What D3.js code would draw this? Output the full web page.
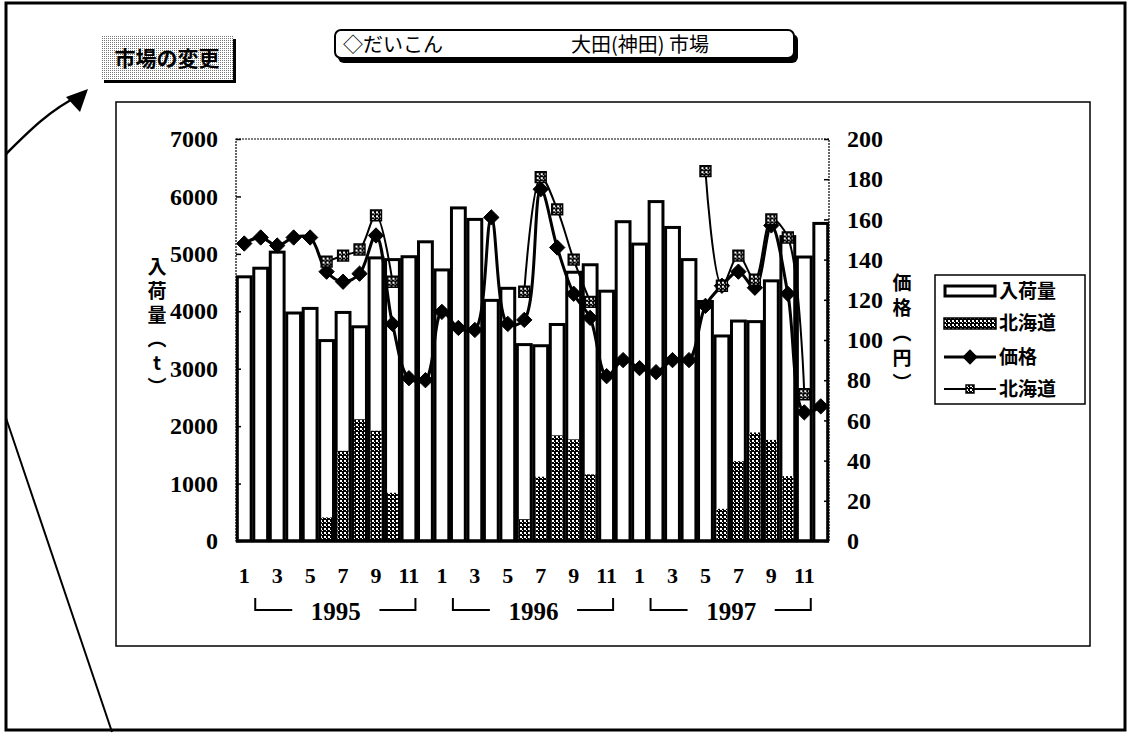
<!DOCTYPE html>
<meta charset="utf-8">
<style>
body { margin: 0; background: #fff; }
svg { display: block; }
.tick text { font-family: "Liberation Serif", serif; font-weight: bold; fill: #000; }
.jp { font-family: "Noto Sans CJK JP", sans-serif; fill: #000; }
.vt { writing-mode: vertical-rl; text-orientation: upright; }
</style>
<svg width="1128" height="734"></svg>
<script src="https://d3js.org/d3.v7.min.js"></script>
<script>

// months: 1995-01 .. 1997-12
var years = ["1995", "1996", "1997"];
var months = d3.range(36);

var volume = [4600, 4750, 5030, 3970, 4050, 3490, 3980, 3730, 4930, 4900, 4950, 5210,
              4720, 5800, 5600, 4190, 4400, 3420, 3400, 3770, 4680, 4810, 4350, 5560,
              5170, 5910, 5460, 4900, 4170, 3570, 3830, 3820, 4530, 5300, 4945, 5530];

var hokVolume = [null, null, null, null, null, 410, 1570, 2120, 1920, 840, null, null,
                 null, null, null, null, null, 380, 1120, 1840, 1770, 1160, null, null,
                 null, null, null, null, null, 560, 1390, 1890, 1760, 1130, null, null];

var price = [148, 151, 147, 151, 151, 134, 129, 133, 152, 108, 81, 80,
             114, 106, 105, 161, 108, 110, 175, 146, 123, 111, 82, 90,
             86, 84, 90, 90, 117, 127, 134, 126, 157, 123, 64, 67];

var hokPrice = [null, null, null, null, null, 139, 142, 145, 162, 129, null, null,
                null, null, null, null, null, 124, 181, 165, 140, 119, null, null,
                null, null, null, null, 184, 127, 142, 130, 160, 151, 73, null];

var volTicks = [0, 1000, 2000, 3000, 4000, 5000, 6000, 7000];
var priceTicks = [0, 20, 40, 60, 80, 100, 120, 140, 160, 180, 200];
var legendNames = ["入荷量", "北海道", "価格", "北海道"];

var svg = d3.select("svg");
var defs = svg.append("defs");

// dark checker for 北海道
var pat = defs.append("pattern").attr("id", "hok").attr("width", 4).attr("height", 4)
    .attr("patternUnits", "userSpaceOnUse");
pat.append("rect").attr("width", 4).attr("height", 4).attr("fill", "#000");
pat.append("rect").attr("x", 0).attr("y", 0).attr("width", 2).attr("height", 2).attr("fill", "#fff");
pat.append("rect").attr("x", 2).attr("y", 2).attr("width", 1).attr("height", 1).attr("fill", "#fff");

// light stipple for the button
var pat2 = defs.append("pattern").attr("id", "stip").attr("width", 2).attr("height", 2)
    .attr("patternUnits", "userSpaceOnUse");
pat2.append("rect").attr("width", 2).attr("height", 2).attr("fill", "#fff");
pat2.append("rect").attr("width", 1).attr("height", 1).attr("fill", "#777");

// outer frame
svg.append("rect").attr("x", 6).attr("y", 3).attr("width", 1119).attr("height", 727)
   .attr("fill", "none").attr("stroke", "#000").attr("stroke-width", 3);

// button
svg.append("rect").attr("x", 104).attr("y", 39).attr("width", 132).attr("height", 44).attr("fill", "#000");
svg.append("rect").attr("x", 101).attr("y", 36).attr("width", 132).attr("height", 44).attr("fill", "url(#stip)");
svg.append("text").attr("class", "jp").attr("x", 167).attr("y", 66)
   .attr("text-anchor", "middle").attr("font-size", 21).attr("font-weight", "bold")
   .text("市場の変更");

// title box
svg.append("rect").attr("x", 338).attr("y", 34).attr("width", 460).attr("height", 29)
   .attr("rx", 6).attr("fill", "#000");
svg.append("rect").attr("x", 335).attr("y", 30).attr("width", 459).attr("height", 28)
   .attr("rx", 6).attr("fill", "#fff").attr("stroke", "#000").attr("stroke-width", 2);
svg.append("text").attr("class", "jp").attr("x", 343).attr("y", 52).attr("font-size", 20)
   .text("◇だいこん");
svg.append("text").attr("class", "jp").attr("x", 571).attr("y", 52).attr("font-size", 20)
   .text("大田(神田) 市場");

// arrow and long line
svg.append("path").attr("d", "M6,154 C30,130 50,110 80,95")
   .attr("fill", "none").attr("stroke", "#000").attr("stroke-width", 2.5);
svg.append("path").attr("d", "M88,89 L66,97 L80,112 Z").attr("fill", "#000");
svg.append("line").attr("x1", 6).attr("y1", 418).attr("x2", 112).attr("y2", 732)
   .attr("stroke", "#000").attr("stroke-width", 2);

// chart box
svg.append("rect").attr("x", 116).attr("y", 102).attr("width", 974).attr("height", 544)
   .attr("fill", "#fff").attr("stroke", "#000").attr("stroke-width", 1.5);

var plotL = 236, plotR = 829, plotT = 139, plotB = 541;

var x = d3.scaleBand().domain(months).range([plotL, plotR]).paddingInner(0.16).paddingOuter(0.08);
var y = d3.scaleLinear().domain([0, 7000]).range([plotB, plotT]);
var y2 = d3.scaleLinear().domain([0, 200]).range([plotB, plotT]);

// plot frame (dotted)
svg.append("rect").attr("x", plotL).attr("y", plotT).attr("width", plotR - plotL).attr("height", plotB - plotT)
   .attr("fill", "none").attr("stroke", "#000").attr("stroke-width", 1.2).attr("stroke-dasharray", "2,1");

// bars
svg.append("g").selectAll("rect").data(months).join("rect")
   .attr("x", function(d) { return x(d); })
   .attr("y", function(d) { return y(volume[d]); })
   .attr("width", x.bandwidth())
   .attr("height", function(d) { return plotB - y(volume[d]); })
   .attr("fill", "#fff").attr("stroke", "#000").attr("stroke-width", 3);

svg.append("g").selectAll("rect").data(months.filter(function(d) { return hokVolume[d] != null; })).join("rect")
   .attr("x", function(d) { return x(d) + 1.5; })
   .attr("y", function(d) { return y(hokVolume[d]); })
   .attr("width", x.bandwidth() - 3)
   .attr("height", function(d) { return plotB - y(hokVolume[d]); })
   .attr("fill", "url(#hok)");

// axes
var yAxis = svg.append("g").attr("transform", "translate(" + plotL + ",0)")
   .call(d3.axisLeft(y).tickValues(volTicks).tickFormat(d3.format("d")).tickSize(-5).tickPadding(18));
var y2Axis = svg.append("g").attr("transform", "translate(" + plotR + ",0)")
   .call(d3.axisRight(y2).tickValues(priceTicks).tickFormat(d3.format("d")).tickSize(-5).tickPadding(18));
[yAxis, y2Axis].forEach(function(g) {
  g.select(".domain").remove();
  g.selectAll(".tick line").attr("stroke", "#000").attr("stroke-width", 1.5);
  g.selectAll(".tick text").attr("font-size", 24);
});

var xAxis = svg.append("g").attr("transform", "translate(0," + plotB + ")")
   .call(d3.axisBottom(x).tickValues(months.filter(function(d) { return d % 2 === 0; }))
         .tickFormat(function(d) { return (d % 12) + 1; }).tickSize(0).tickPadding(26));
xAxis.select(".domain").remove();
xAxis.selectAll(".tick text").attr("font-size", 22);
svg.append("line").attr("x1", plotL).attr("x2", plotR).attr("y1", plotB).attr("y2", plotB)
   .attr("stroke", "#000").attr("stroke-width", 3);

// year brackets
var cx = function(d) { return x(d) + x.bandwidth() / 2; };
var yearG = svg.append("g").selectAll("g").data(years).join("g");
yearG.append("path")
   .attr("d", function(d, i) {
     var x0 = cx(i * 12) + 11, x1 = cx(i * 12 + 11) - 10;
     return "M" + x0 + ",598 V610 H" + (x0 + 37) + " M" + (x1 - 36) + ",610 H" + x1 + " V598";
   })
   .attr("fill", "none").attr("stroke", "#000").attr("stroke-width", 2);
yearG.append("text")
   .attr("x", function(d, i) { return (cx(i * 12) + cx(i * 12 + 11)) / 2 + 1; })
   .attr("y", 620).attr("text-anchor", "middle")
   .attr("font-family", "Liberation Serif, serif").attr("font-weight", "bold").attr("font-size", 25)
   .text(function(d) { return d; });

// lines
var priceLine = d3.line().x(cx).y(function(d) { return y2(price[d]); })
   .curve(d3.curveCatmullRom.alpha(0.5));
var hokLine = d3.line().defined(function(d) { return hokPrice[d] != null; })
   .x(cx).y(function(d) { return y2(hokPrice[d]); })
   .curve(d3.curveCatmullRom.alpha(0.5));

svg.append("path").datum(months).attr("d", hokLine)
   .attr("fill", "none").attr("stroke", "#000").attr("stroke-width", 2);
svg.append("path").datum(months).attr("d", priceLine)
   .attr("fill", "none").attr("stroke", "#000").attr("stroke-width", 3);

var diamond = d3.symbol().type(d3.symbolDiamond2).size(150);
var square = d3.symbol().type(d3.symbolSquare2).size(150);

svg.append("g").selectAll("path").data(months).join("path")
   .attr("transform", function(d) { return "translate(" + cx(d) + "," + y2(price[d]) + ")"; })
   .attr("d", diamond).attr("fill", "#000").attr("stroke", "#000");
svg.append("g").selectAll("path").data(months.filter(function(d) { return hokPrice[d] != null; })).join("path")
   .attr("transform", function(d) { return "translate(" + cx(d) + "," + y2(hokPrice[d]) + ")"; })
   .attr("d", square).attr("fill", "url(#hok)").attr("stroke", "#000").attr("stroke-width", 1.5);

// axis titles (vertical)
svg.append("text").attr("class", "jp vt").attr("x", 157).attr("y", 257)
   .attr("font-size", 19).attr("font-weight", "bold").attr("letter-spacing", 5)
   .text("入荷量（t）");
svg.append("text").attr("class", "jp vt").attr("x", 902).attr("y", 273)
   .attr("font-size", 19).attr("font-weight", "bold").attr("letter-spacing", 6)
   .text("価格（円）");

// legend
var lg = svg.append("g");
lg.append("rect").attr("x", 935).attr("y", 275).attr("width", 150).attr("height", 129)
  .attr("fill", "#fff").attr("stroke", "#000").attr("stroke-width", 1.5);
var rowY = [291, 323, 357, 389];
lg.selectAll("text").data(legendNames).join("text").attr("class", "jp")
  .attr("x", 999).attr("y", function(d, i) { return rowY[i] + 7; })
  .attr("font-size", 19).attr("font-weight", "bold").text(function(d) { return d; });
lg.append("rect").attr("x", 945).attr("y", rowY[0] - 5).attr("width", 50).attr("height", 10)
  .attr("fill", "#fff").attr("stroke", "#000").attr("stroke-width", 3);
lg.append("rect").attr("x", 944).attr("y", rowY[1] - 5).attr("width", 52).attr("height", 11)
  .attr("fill", "url(#hok)").attr("stroke", "#000").attr("stroke-width", 1.5);
lg.append("line").attr("x1", 944).attr("x2", 996).attr("y1", rowY[2]).attr("y2", rowY[2])
  .attr("stroke", "#000").attr("stroke-width", 3);
lg.append("path").attr("transform", "translate(970," + rowY[2] + ")").attr("d", diamond).attr("fill", "#000");
lg.append("line").attr("x1", 944).attr("x2", 996).attr("y1", rowY[3]).attr("y2", rowY[3])
  .attr("stroke", "#000").attr("stroke-width", 2);
lg.append("path").attr("transform", "translate(970," + rowY[3] + ")").attr("d", d3.symbol().type(d3.symbolSquare2).size(80))
  .attr("fill", "url(#hok)").attr("stroke", "#000").attr("stroke-width", 1.5);

</script>
